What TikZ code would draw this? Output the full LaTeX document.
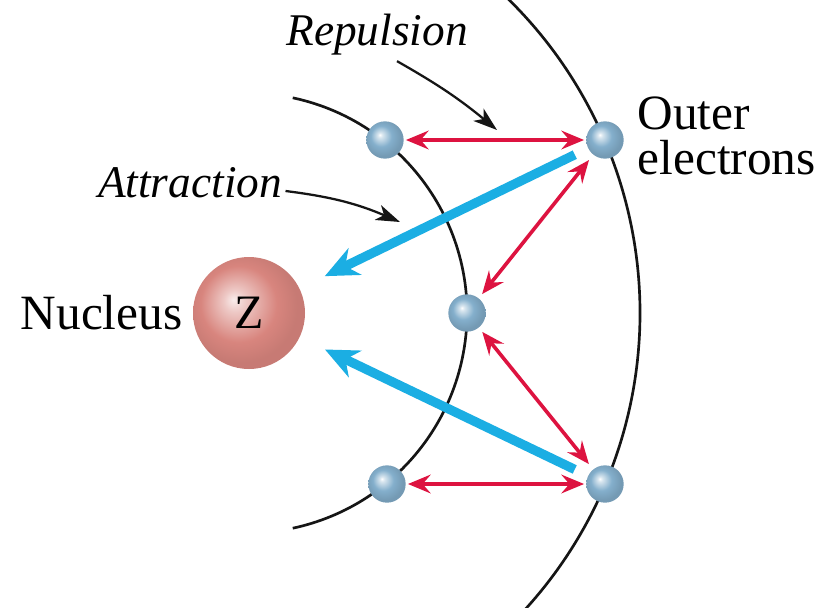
\documentclass[tikz,border=0pt]{standalone}
\usepackage{fontspec}
\setmainfont{Liberation Serif}
\usepackage{tikz}
\usetikzlibrary{arrows.meta,calc}
\definecolor{AtomCyan}{HTML}{1BAEE3}
\definecolor{AtomRed}{HTML}{DD1340}
\definecolor{AtomDark}{HTML}{151515}
\definecolor{ShellBall}{HTML}{84AFCC}
\definecolor{NucBall}{HTML}{D8857E}
\pgfdeclareradialshading{electronball}{\pgfpoint{-7bp}{7bp}}{color(0bp)=(white); color(3bp)=(ShellBall!30!white); color(14bp)=(ShellBall); color(25bp)=(ShellBall!88!black); color(50bp)=(ShellBall!88!black)}
\pgfdeclareradialshading{nucleusball}{\pgfpoint{-7bp}{6bp}}{color(0bp)=(NucBall!15!white); color(5bp)=(NucBall!45!white); color(17bp)=(NucBall); color(25bp)=(NucBall!92!black); color(50bp)=(NucBall!92!black)}
\tikzset{
  electron/.style={circle,minimum size=28pt,inner sep=0pt,shading=electronball},
  nucleus/.style={circle,minimum size=84pt,inner sep=0pt,shading=nucleusball,font=\fontsize{36}{36}\selectfont},
  shell/.style={line width=2pt,draw=AtomDark},
  repel/.style={{Stealth[length=17pt,width=14pt,inset=6pt]}-{Stealth[length=17pt,width=14pt,inset=6pt]},line width=2.7pt,draw=AtomRed},
  pull/.style={-{Stealth[length=25pt,width=22pt,inset=8pt]},line width=7pt,draw=AtomCyan},
  pointer/.style={-{Stealth[length=18pt,width=12pt,inset=5pt]},line width=1.7pt,draw=AtomDark},
  plaintext/.style={inner sep=1pt,font=\fontsize{37}{34}\selectfont},
  slanttext/.style={inner sep=1pt,font=\fontsize{34}{34}\selectfont\itshape}
}

\begin{document}
\begin{tikzpicture}[x=0.75pt,y=-0.75pt]
\clip (0,0) rectangle (823,607);
\fill[white] (0,0) rectangle (823,607);
% shells
\draw[shell] (247,313) ++(-78:220) arc[start angle=-78,end angle=78,radius=220];
\draw[shell] (200,313) ++(-48:440) arc[start angle=-48,end angle=48,radius=440];
% nucleus and electrons
\node[nucleus] (nuc) at (249,313) {Z};
\node[electron] (e1) at (385,140) {};
\node[electron] (e2) at (467,313) {};
\node[electron] (e3) at (387,484) {};
\node[electron] (o1) at (605,140) {};
\node[electron] (o2) at (605,484) {};
% labels
\node[plaintext,anchor=east] (nl) at (184,313) {Nucleus};
\node[plaintext,anchor=west,align=left] (ol) at (636,136) {Outer\\electrons};
\node[slanttext] (rep) at (377,35) {Repulsion};
\node[slanttext] (att) at (190,183) {Attraction};
\coordinate (reptip) at (497,130);
\coordinate (atttip) at (400,222);
% repulsion
\draw[repel,shorten <=1.5pt,shorten >=1.5pt] (e1) -- (o1);
\draw[repel,shorten <=1.5pt,shorten >=1.5pt] (e3) -- (o2);
\draw[repel,shorten <=4pt,shorten >=5pt] (e2) -- (o1);
\draw[repel,shorten <=4pt,shorten >=5pt] (e2) -- (o2);
% attraction
\draw[pull,shorten <=11pt,shorten >=21pt] (o1) -- (nuc);
\draw[pull,shorten <=11pt,shorten >=21pt] (o2) -- (nuc);
% pointers
\draw[pointer] ($(rep.south)+(20,4)$) to[bend left=5] (reptip);
\draw[pointer] ($(att.east)+(2,8)$) to[bend left=8] (atttip);
\end{tikzpicture}
\end{document}
